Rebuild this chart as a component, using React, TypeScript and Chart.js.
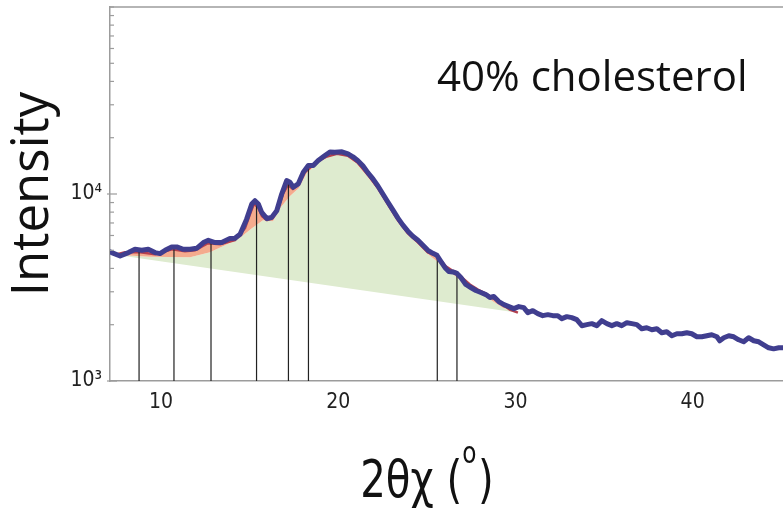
import React, { useEffect, useRef } from 'react';
import { Chart, registerables } from 'chart.js';

Chart.register(...registerables);

// ---- measured diffraction profile (2θχ in degrees, intensity in counts) ----
const theta2 = [
  7.12, 7.22, 7.69, 8.16, 8.53, 8.91, 9.28, 9.66, 9.94, 10.23, 10.6, 10.89, 11.26, 11.64, 12.01,
  12.39, 12.67, 13.05, 13.42, 13.89, 14.17, 14.46, 14.83, 15.12, 15.3, 15.49, 15.68, 15.96, 16.24,
  16.53, 16.81, 17.09, 17.28, 17.46, 17.74, 18.03, 18.31, 18.59, 18.87, 19.25, 19.53, 19.81, 20.21,
  20.55, 20.83, 21.11, 21.39, 21.68, 21.96, 22.24, 22.52, 22.8, 23.09, 23.37, 23.65, 23.93, 24.21,
  24.5, 24.78, 25.06, 25.34, 25.57, 25.79, 26.02, 26.24, 26.47, 26.7, 26.92, 27.2, 27.48, 27.77,
  28.05, 28.33, 28.56, 28.78, 29.06, 29.35, 29.63, 29.91, 30.19, 30.47, 30.7, 30.98, 31.26, 31.54,
  31.83, 32.11, 32.39, 32.62, 32.9, 33.18, 33.46, 33.75, 34.03, 34.31, 34.59, 34.87, 35.16, 35.44,
  35.72, 36.0, 36.29, 36.57, 36.85, 37.13, 37.41, 37.7, 37.98, 38.26, 38.54, 38.83, 39.11, 39.39,
  39.67, 39.95, 40.24, 40.52, 40.8, 41.08, 41.37, 41.53, 41.76, 42.04, 42.32, 42.6, 42.88, 43.16,
  43.45, 43.73, 44.01, 44.29, 44.57, 44.86, 45.14,
];
const intensity = [
  4900, 4860, 4660, 4860, 5062, 5000, 5062, 4860, 4800, 5000, 5210, 5210, 5062, 5062, 5125,
  5500, 5657, 5500, 5500, 5790, 5800, 6094, 7337, 8837, 9204, 8837, 7972, 7402, 7493,
  8132, 10000, 11790, 11560, 10865, 11320, 13080, 14200, 14200, 15100, 16070, 16760, 16720, 16820,
  16410, 15810, 15050, 14150, 12970, 12040, 11040, 10000, 9058, 8204, 7430, 6813, 6325, 5946,
  5657, 5318, 5000, 4817, 4699, 4363, 4050, 3855, 3831, 3761, 3579, 3282, 3162, 3047,
  2972, 2899, 2795, 2829, 2659, 2562, 2499, 2438, 2499, 2468, 2321, 2378, 2292, 2236,
  2264, 2236, 2236, 2154, 2209, 2182, 2128, 1976, 2001, 2026, 1976, 2102, 2026, 1976,
  2026, 1976, 2050, 2026, 2001, 1904, 1927, 1880, 1904, 1812, 1834, 1746, 1789, 1789,
  1812, 1789, 1724, 1724, 1746, 1767, 1724, 1641, 1703, 1746, 1724, 1661, 1621, 1703,
  1641, 1621, 1561, 1505, 1486, 1505, 1505,
];

// ---- fitted components ----
const fitTheta = [
  7.41, 7.97, 8.82, 9.66, 10.62, 11.35, 11.92, 12.65, 13.33, 14.17, 14.74, 15.02, 15.24, 15.47,
  15.7, 15.98, 16.27, 16.55, 16.88, 17.16, 17.44, 17.78, 18.12, 18.46, 18.86, 19.31, 19.93, 20.55,
  21.11, 21.68, 22.24, 22.8, 23.37, 23.93, 24.5, 25.06, 25.51, 25.79, 26.07, 26.41, 26.7, 27.04,
  27.43, 27.88, 28.33, 28.78, 29.29, 29.68, 30.14,
];
const fitIntensity = [
  4730, 4877, 4877, 4758, 5062, 4938, 5000, 5453, 5386, 5657, 6564, 7807, 8837, 8514,
  7615, 7248, 7430, 8101, 10000, 11180, 10640, 11320, 13110, 13970, 15050, 15810, 16410, 16010,
  14680, 12660, 10770, 8837, 7248, 6170, 5520, 4877, 4699, 4418, 4101, 3903, 3808, 3535,
  3282, 3085, 2936, 2759, 2562, 2408, 2321,
];
const haloTheta = [
  7.41, 9.38, 11.64, 12.76, 13.61, 14.46, 15.13, 15.75, 16.32, 16.77, 17.28, 17.78, 18.23, 18.8,
  19.36, 19.93, 20.49, 21.05, 21.62, 22.18, 22.74, 23.31, 23.87, 24.44, 25.0, 25.57, 26.13, 26.7,
  27.43, 28.39, 29.29, 30.25,
];
const haloIntensity = [
  4730, 4613, 4585, 4877, 5318, 5836, 6564, 7248, 7160, 8514, 9755, 10770, 12970, 14500,
  15620, 16310, 15810, 14500, 12500, 10640, 8730, 7160, 6094, 5453, 4817, 4363, 3952, 3579,
  3162, 2795, 2468, 2309,
];
const baseTheta = [7.41, 30.25];
const baseIntensity = [4730, 2309];

// ---- peak positions ----
const peakTheta = [8.76, 10.73, 12.82, 15.39, 17.19, 18.32, 25.59, 26.7];
const peakTop = [5060, 5060, 5520, 9060, 11610, 13960, 4580, 3810];

// ---- axes / text ----
const xMin = 7.12;
const xMax = 45.1;
const xTicks = [10, 20, 30, 40];
const yMin = 1000;
const yMax = 100000;
const yTickValues = [
  1000, 2000, 3000, 4000, 5000, 6000, 7000, 8000, 9000,
  10000, 20000, 30000, 40000, 50000, 60000, 70000, 80000, 90000, 100000,
];
const yLabelValues = [1000, 10000];
const yLabelText = ['10³', '10⁴'];
const sampleLabel = '40% cholesterol';
const yTitle = 'Intensity';
const xTitleMain = '2θχ (';
const xTitleSup = 'o';
const xTitleEnd = ')';

const pts = (xs: number[], ys: number[]) => xs.map((x, i) => ({ x, y: ys[i] }));

const NARROW = '"Liberation Sans Narrow", "DejaVu Sans Condensed", "Liberation Sans", sans-serif';

const decorPlugin = {
  id: 'decor',
  afterDraw(chart: any) {
    const { ctx, chartArea } = chart;
    const { left, top, right } = chartArea;
    const y = chart.scales.y;
    ctx.save();
    ctx.strokeStyle = '#9c9c9c';
    ctx.lineWidth = 1.5;
    ctx.beginPath();
    ctx.moveTo(left, top);
    ctx.lineTo(right, top);
    ctx.stroke();
    // inward tick marks on the log axis
    ctx.lineWidth = 1.2;
    y.ticks.forEach((t: any) => {
      const py = y.getPixelForValue(t.value);
      const major = yLabelValues.includes(t.value);
      ctx.beginPath();
      ctx.moveTo(major ? left - 3 : left, py);
      ctx.lineTo(left + (major ? 7 : 4), py);
      ctx.stroke();
    });
    // sample label
    ctx.fillStyle = '#111';
    ctx.font = '42px "Open Sans", sans-serif';
    ctx.textAlign = 'left';
    ctx.textBaseline = 'alphabetic';
    ctx.fillText(sampleLabel, 437, 91);
    // x title with raised "o", slightly condensed
    const sx = 0.86;
    const big = '52px ' + NARROW;
    const small = '30px ' + NARROW;
    ctx.font = big;
    const w1 = ctx.measureText(xTitleMain).width;
    const w3 = ctx.measureText(xTitleEnd).width;
    ctx.font = small;
    const w2 = ctx.measureText(xTitleSup).width + 2;
    const total = (w1 + w2 + w3) * sx;
    const cx = 427;
    const base = 497;
    ctx.translate(cx - total / 2, 0);
    ctx.scale(sx, 1);
    let x0 = 0;
    ctx.font = big;
    ctx.fillText(xTitleMain, x0, base);
    x0 += w1;
    ctx.font = small;
    ctx.fillText(xTitleSup, x0, base - 34);
    x0 += w2;
    ctx.font = big;
    ctx.fillText(xTitleEnd, x0, base);
    ctx.restore();
  },
};

export default function App() {
  const ref = useRef<HTMLCanvasElement | null>(null);

  useEffect(() => {
    if (!ref.current) return;
    const peakSegments = peakTheta.flatMap((x, i) => [
      { x, y: yMin },
      { x, y: peakTop[i] },
      { x, y: null as any },
    ]);
    const chart = new Chart(ref.current, {
      type: 'scatter',
      data: {
        datasets: [
          {
            label: 'data',
            data: pts(theta2, intensity),
            showLine: true,
            borderColor: '#403e8f',
            borderWidth: 5,
            pointRadius: 0,
            borderJoinStyle: 'round',
            borderCapStyle: 'round',
            fill: false,
            order: 0,
          } as any,
          {
            label: 'peaks',
            data: peakSegments,
            showLine: true,
            borderColor: '#222',
            borderWidth: 1.2,
            pointRadius: 0,
            spanGaps: false,
            fill: false,
            order: 1,
          },
          {
            label: 'fit',
            data: pts(fitTheta, fitIntensity),
            showLine: true,
            borderColor: '#b5404e',
            borderWidth: 2.5,
            pointRadius: 0,
            fill: { target: 3 },
            backgroundColor: '#f4ab8e',
            order: 2,
          },
          {
            label: 'halo',
            data: pts(haloTheta, haloIntensity),
            showLine: true,
            borderColor: 'rgba(0,0,0,0)',
            borderWidth: 0,
            pointRadius: 0,
            fill: { target: 4 },
            backgroundColor: '#deebcf',
            order: 3,
          },
          {
            label: 'baseline',
            data: pts(baseTheta, baseIntensity),
            showLine: true,
            borderColor: 'rgba(0,0,0,0)',
            borderWidth: 0,
            pointRadius: 0,
            fill: false,
            order: 4,
          },
        ],
      },
      options: {
        animation: false,
        responsive: false,
        layout: { padding: { left: 0, top: 7, right: 0, bottom: 0 } },
        plugins: { legend: { display: false }, tooltip: { enabled: false } },
        scales: {
          x: {
            type: 'linear',
            min: xMin,
            max: xMax,
            grid: { display: false, drawTicks: false },
            border: { display: true, color: '#9c9c9c', width: 1.5 },
            afterBuildTicks: (s: any) => {
              s.ticks = xTicks.map((v) => ({ value: v }));
            },
            afterFit: (s: any) => {
              s.height = 129;
              s.paddingLeft = 0;
              s.paddingRight = 0;
            },
            ticks: {
              autoSkip: false,
              maxRotation: 0,
              padding: 9,
              color: '#222',
              font: { family: NARROW, size: 21 },
              callback: (v: any) => String(v),
            },
          },
          y: {
            type: 'logarithmic',
            min: yMin,
            max: yMax,
            grid: { display: false, drawTicks: false },
            border: { display: true, color: '#9c9c9c', width: 1.5 },
            afterBuildTicks: (s: any) => {
              s.ticks = yTickValues.map((v) => ({ value: v }));
            },
            afterFit: (s: any) => {
              s.width = 110;
              s.paddingTop = 0;
              s.paddingBottom = 0;
            },
            title: {
              display: true,
              text: yTitle,
              color: '#111',
              font: { family: '"Open Sans", sans-serif', size: 51 },
              padding: { top: 3, bottom: 0 },
            },
            ticks: {
              autoSkip: false,
              padding: 8,
              color: '#222',
              font: { family: NARROW, size: 21 },
              callback: (v: any) => {
                const i = yLabelValues.indexOf(Number(v));
                return i >= 0 ? yLabelText[i] : '';
              },
            },
          },
        },
      } as any,
      plugins: [decorPlugin],
    });
    return () => chart.destroy();
  }, []);

  return (
    <div style={{ position: 'fixed', left: 0, top: 0, width: 783, height: 510, background: '#fff' }}>
      <canvas ref={ref} width={783} height={510} />
    </div>
  );
}
